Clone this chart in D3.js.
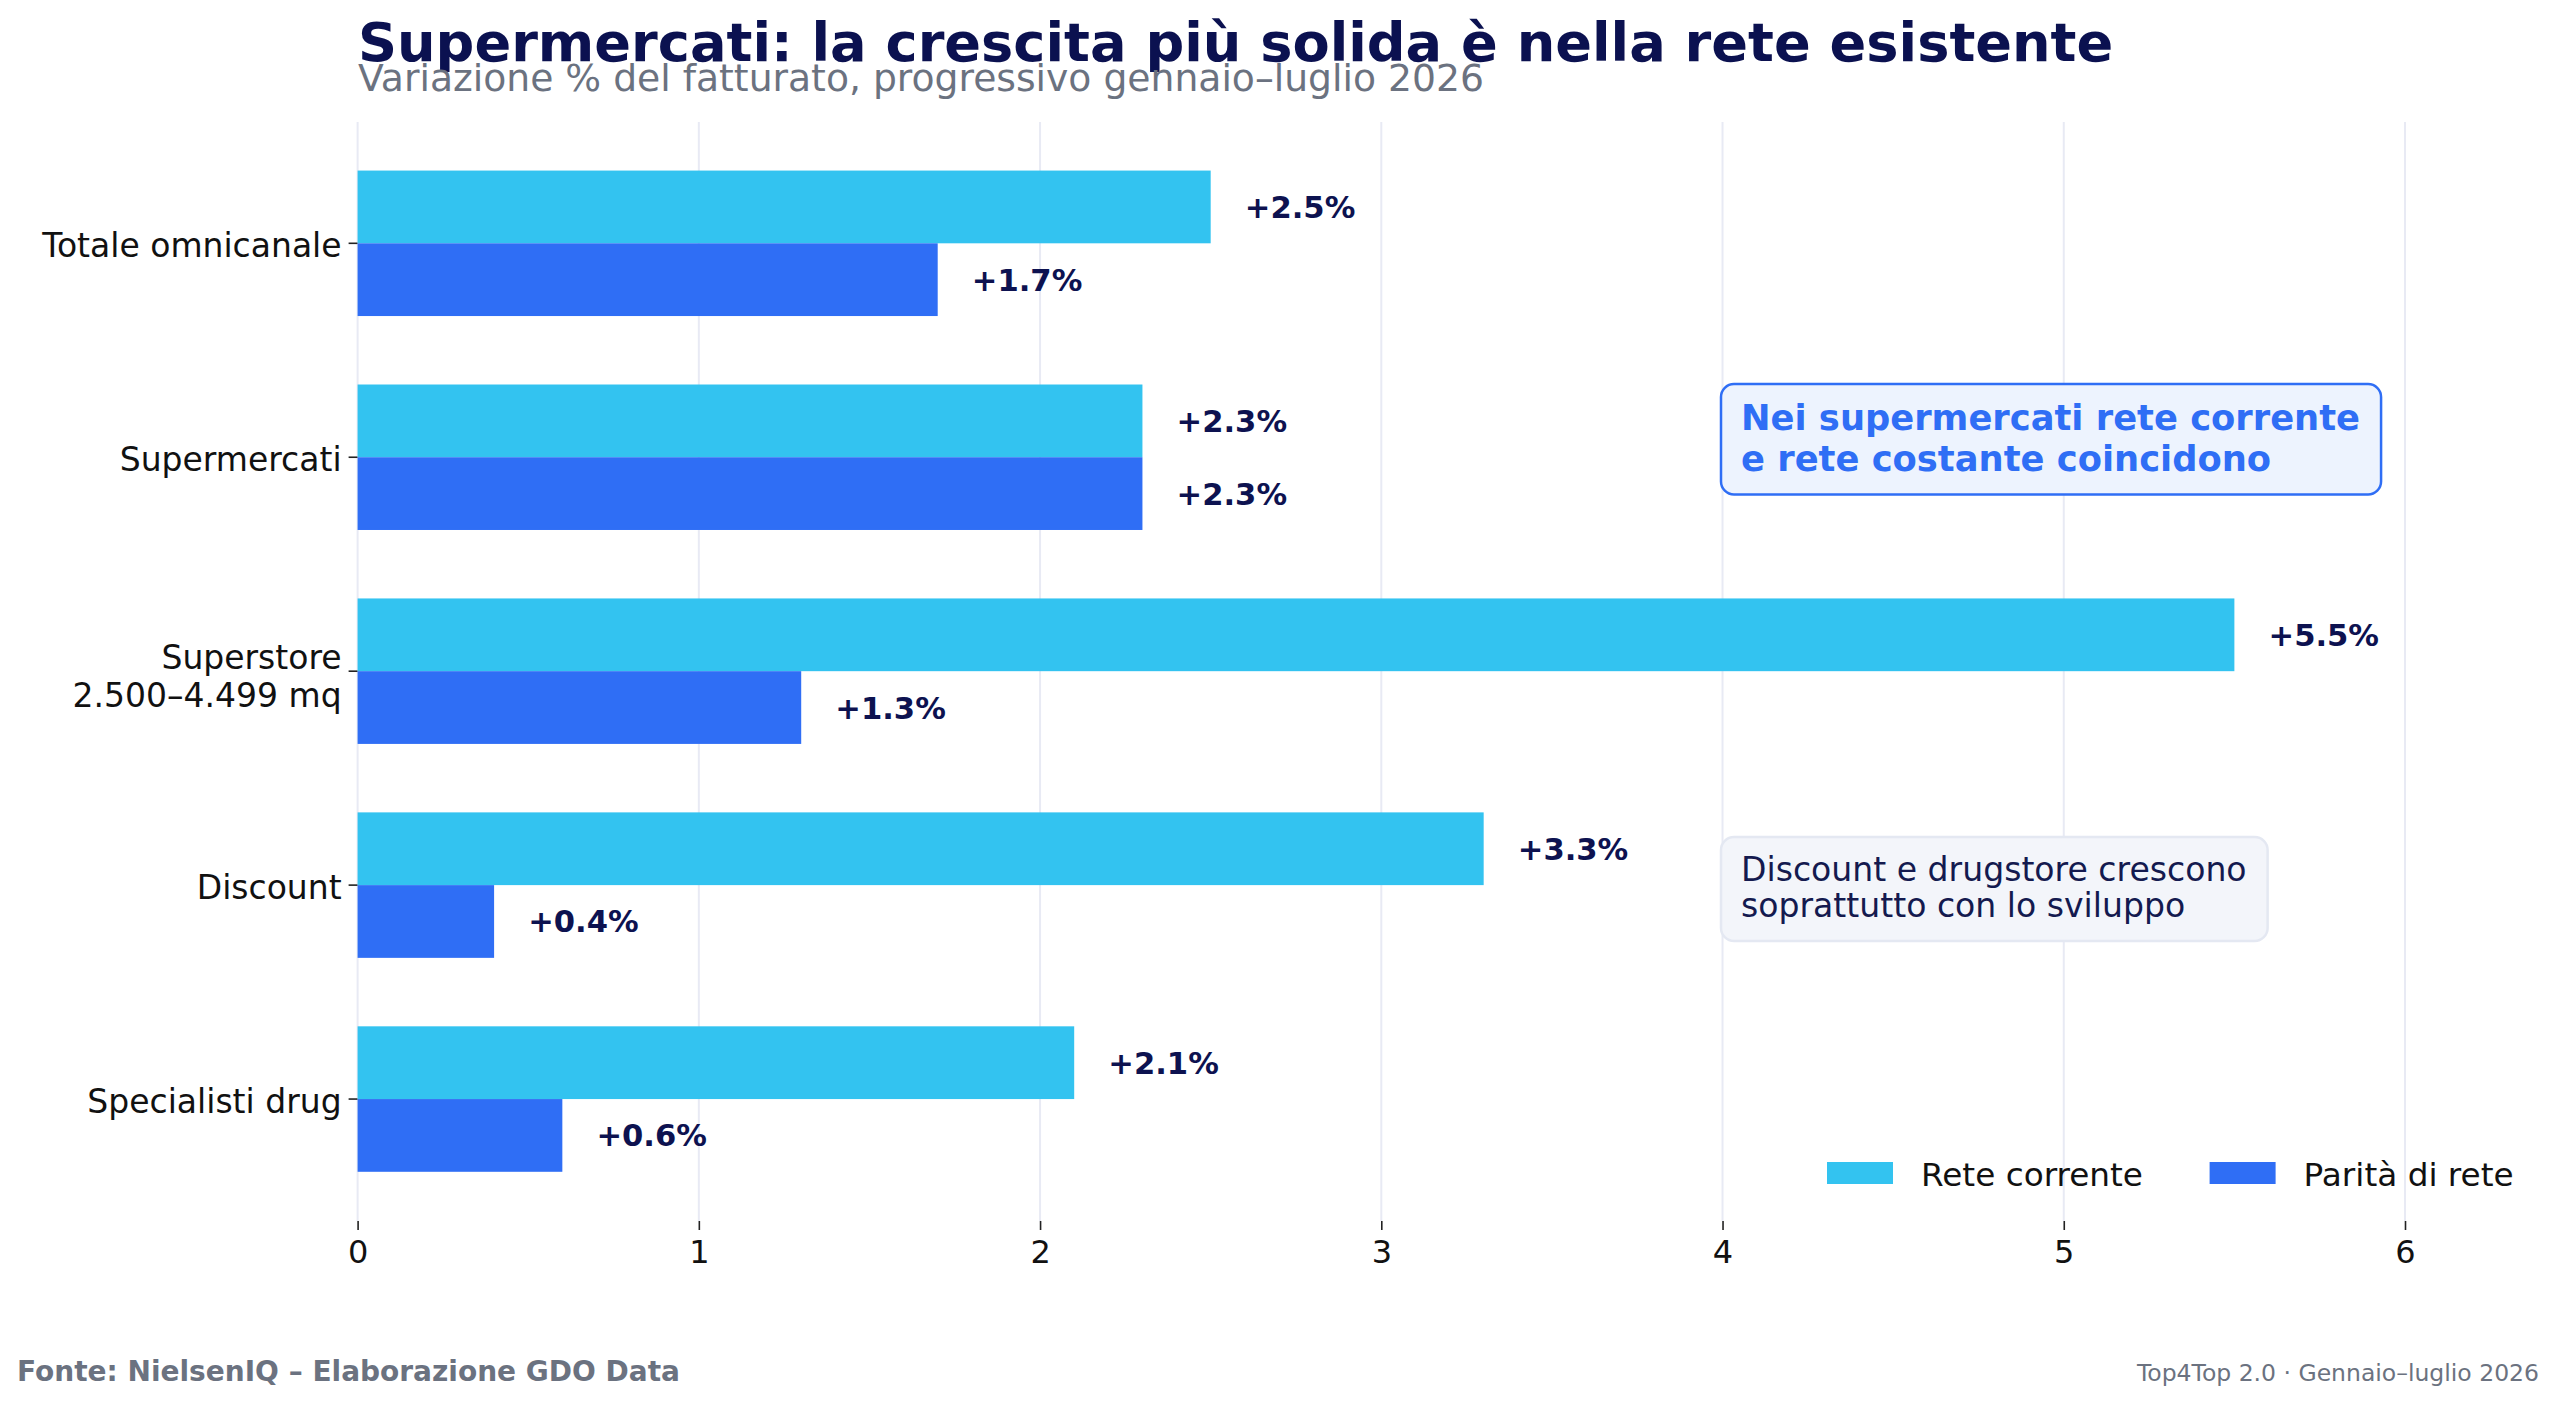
<!DOCTYPE html>
<html>
<head>
<meta charset="utf-8">
<script src="https://cdn.jsdelivr.net/npm/d3@7"></script>
<style>
  body { margin: 0; background: #fff; }
  text { font-family: "DejaVu Sans", sans-serif; }
</style>
</head>
<body>
<div id="chart"></div>
<script>
// Chart data
const categories = ["Totale omnicanale", "Supermercati", "Superstore\n2.500–4.499 mq", "Discount", "Specialisti drug"];
const seriesNames = ["Rete corrente", "Parità di rete"];
const reteCorrente = [2.5, 2.3, 5.5, 3.3, 2.1];
const paritaRete = [1.7, 2.3, 1.3, 0.4, 0.6];
const xTicks = [0, 1, 2, 3, 4, 5, 6];

const colors = ["#33c3f0", "#2f6ef5"];
const navy = "#0d1250";
const gray = "#6b7280";

const W = 2560, H = 1402;

const svg = d3.select("#chart")
    .append("svg")
    .attr("width", W)
    .attr("height", H);

// Scales
const x = d3.scaleLinear().domain([0, 6]).range([357.6, 2405]);
const y = d3.scaleLinear().domain([-0.567, 4.57]).range([122, 1221]);
const barH = y(0.34) - y(0);

// Vertical gridlines
svg.append("g")
    .selectAll("line")
    .data(xTicks)
    .enter().append("line")
    .attr("x1", d => x(d)).attr("x2", d => x(d))
    .attr("y1", y.range()[0]).attr("y2", y.range()[1])
    .attr("stroke", "#e8eaf4")
    .attr("stroke-width", 2);

// X axis (ticks only, no spine)
const xAxis = svg.append("g")
    .attr("transform", "translate(0," + y.range()[1] + ")")
    .call(d3.axisBottom(x).tickValues(xTicks).tickFormat(d3.format("d")).tickSize(9).tickPadding(10));
xAxis.select(".domain").remove();
xAxis.selectAll("line").attr("stroke", "#222").attr("stroke-width", 1.6);
xAxis.selectAll("text")
    .attr("fill", "#111")
    .style("font-size", "32px")
    .style("font-family", "DejaVu Sans");

// Y tick marks
svg.append("g")
    .selectAll("line")
    .data(categories)
    .enter().append("line")
    .attr("x1", x(0) - 9).attr("x2", x(0))
    .attr("y1", (d, i) => y(i)).attr("y2", (d, i) => y(i))
    .attr("stroke", "#222")
    .attr("stroke-width", 1.6);

// Y tick labels (multi-line where needed)
const labX = x(0) - 16;
const yLab = svg.append("g")
    .selectAll("text")
    .data(categories)
    .enter().append("text")
    .attr("x", labX)
    .attr("y", (d, i) => y(i))
    .attr("text-anchor", "end")
    .attr("fill", "#111")
    .style("font-size", "33px");
yLab.each(function(d) {
    const lines = d.split("\n");
    const t = d3.select(this);
    lines.forEach((ln, k) => {
        const off = lines.length === 1 ? 13.5 : (k === 0 ? -1.7 : 35.5);
        t.append("tspan")
            .attr("x", labX)
            .attr("y", +t.attr("y") + off)
            .text(ln);
    });
});

// Bars: two series per category
const series = [reteCorrente, paritaRete];
series.forEach((vals, s) => {
    const g = svg.append("g");
    g.selectAll("rect")
        .data(vals)
        .enter().append("rect")
        .attr("x", x(0))
        .attr("y", (d, i) => s === 0 ? y(i) - barH : y(i))
        .attr("width", d => x(d) - x(0))
        .attr("height", barH)
        .attr("fill", colors[s]);

    g.selectAll("text")
        .data(vals)
        .enter().append("text")
        .attr("x", d => x(d + 0.1))
        .attr("y", (d, i) => (s === 0 ? y(i) - barH / 2 : y(i) + barH / 2) + 11)
        .attr("fill", navy)
        .style("font-size", "30.6px")
        .style("font-weight", "bold")
        .text(d => "+" + d.toFixed(1) + "%");
});

// Title and subtitle
svg.append("text")
    .attr("x", 358).attr("y", 60.7)
    .attr("fill", "#0b1150")
    .style("font-size", "54.2px")
    .style("font-weight", "bold")
    .text("Supermercati: la crescita più solida è nella rete esistente");

svg.append("text")
    .attr("x", 358).attr("y", 91)
    .attr("fill", gray)
    .style("font-size", "37.7px")
    .text("Variazione % del fatturato, progressivo gennaio–luglio 2026");

// Annotation boxes
function noteBox(lines, tx, baseline, lineGap, opts) {
    const g = svg.append("g");
    const box = g.append("rect");
    const t = g.append("text")
        .attr("fill", opts.color)
        .style("font-size", opts.size + "px")
        .style("font-weight", opts.weight);
    lines.forEach((ln, k) => {
        t.append("tspan").attr("x", tx).attr("y", baseline + k * lineGap).text(ln);
    });
    const bb = t.node().getBBox();
    box.attr("x", bb.x - 20)
        .attr("y", bb.y - 13)
        .attr("width", bb.width + 41)
        .attr("height", bb.height + 29)
        .attr("rx", 13)
        .attr("fill", opts.fill)
        .attr("stroke", opts.stroke)
        .attr("stroke-width", 2.5);
}

noteBox(["Nei supermercati rete corrente", "e rete costante coincidono"], 1741, 430, 40.5,
    { color: "#2f6ef5", size: 35.3, weight: "bold", fill: "#edf3fe", stroke: "#2f6ef5" });

noteBox(["Discount e drugstore crescono", "soprattutto con lo sviluppo"], 1741, 881, 36,
    { color: "#141a4f", size: 33.1, weight: "normal", fill: "#f3f5fa", stroke: "#e4e8f2" });

// Legend
const legendX = [1827, 2209.6];
const legend = svg.append("g")
    .selectAll("g")
    .data(seriesNames)
    .enter().append("g")
    .attr("transform", (d, i) => "translate(" + legendX[i] + ",1162)");
legend.append("rect")
    .attr("width", 66).attr("height", 22)
    .attr("fill", (d, i) => colors[i]);
legend.append("text")
    .attr("x", 94).attr("y", 23.7)
    .attr("fill", "#111")
    .style("font-size", "32.7px")
    .text(d => d);

// Footer
svg.append("text")
    .attr("x", 17).attr("y", 1381)
    .attr("fill", gray)
    .style("font-size", "28px")
    .style("font-weight", "bold")
    .text("Fonte: NielsenIQ – Elaborazione GDO Data");

svg.append("text")
    .attr("x", 2539).attr("y", 1381)
    .attr("text-anchor", "end")
    .attr("fill", gray)
    .style("font-size", "23.5px")
    .text("Top4Top 2.0 · Gennaio–luglio 2026");
</script>
</body>
</html>
